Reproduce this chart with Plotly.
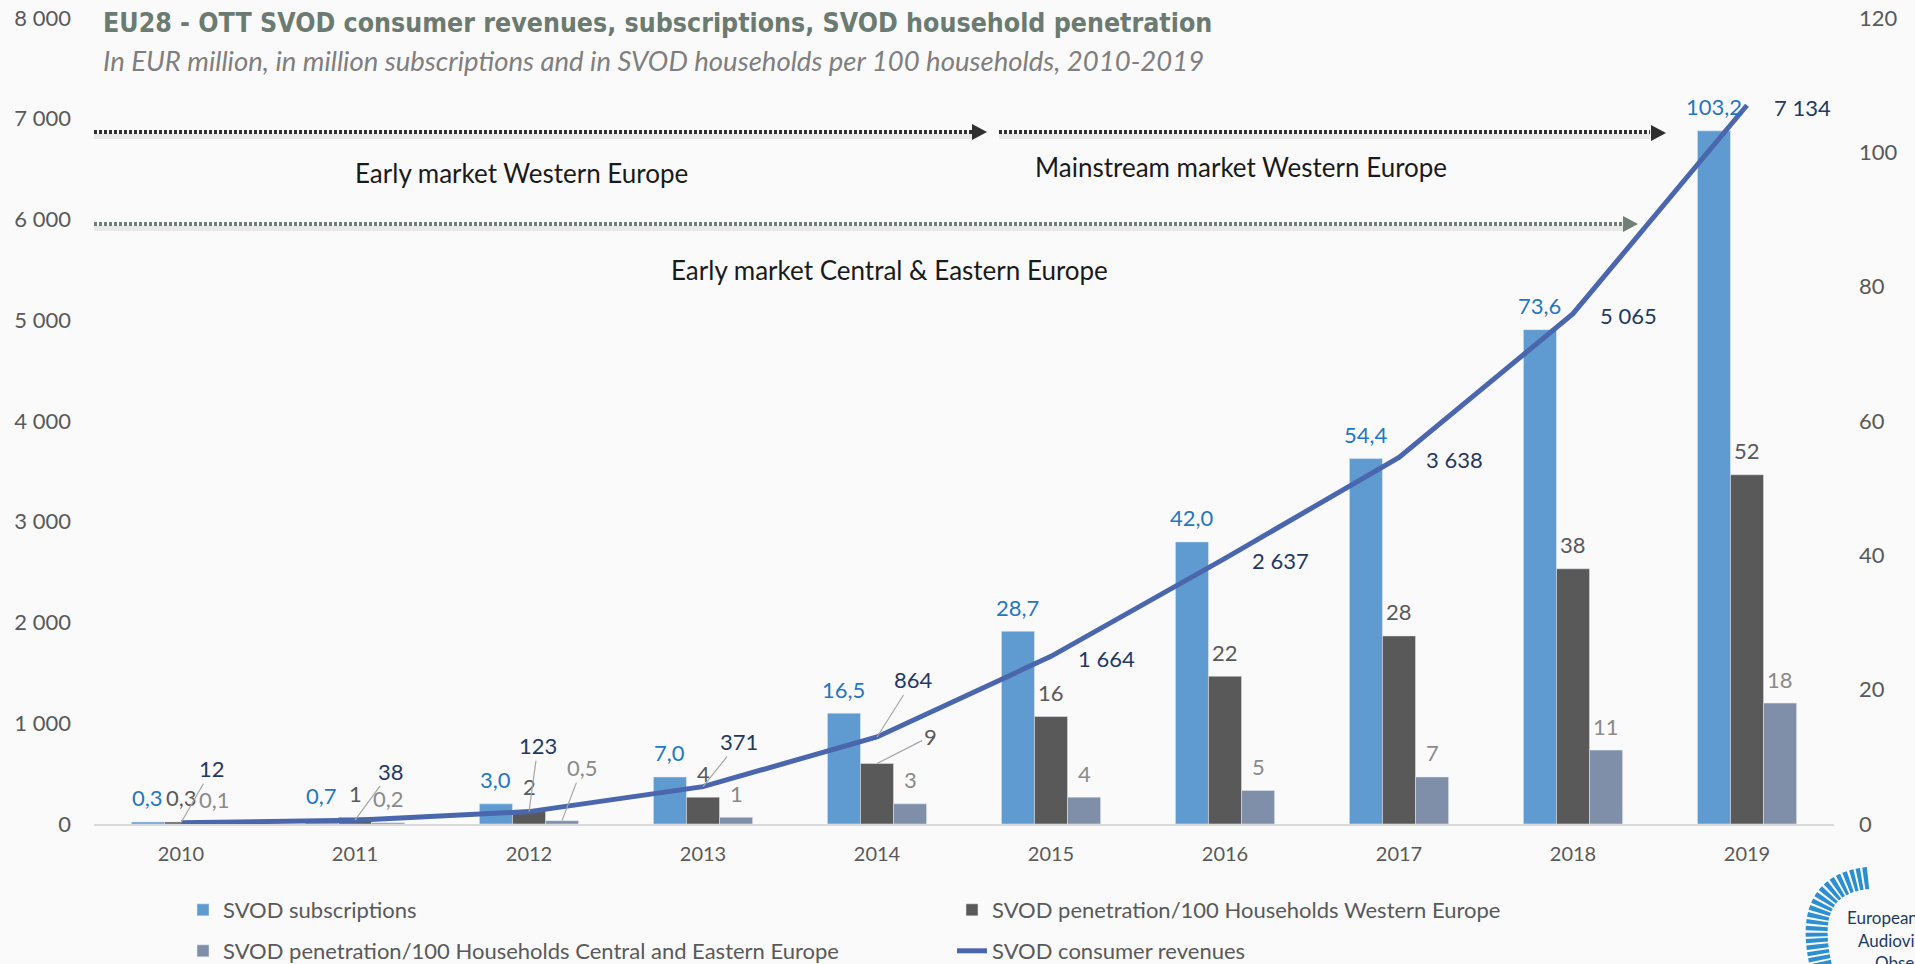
import plotly.graph_objects as go

# ---------------- data ----------------
years = ["2010", "2011", "2012", "2013", "2014", "2015", "2016", "2017", "2018", "2019"]
subscriptions = [0.3, 0.7, 3.0, 7.0, 16.5, 28.7, 42.0, 54.4, 73.6, 103.2]
pen_west = [0.3, 1, 2, 4, 9, 16, 22, 28, 38, 52]
pen_cee = [0.1, 0.2, 0.5, 1, 3, 4, 5, 7, 11, 18]
revenues = [12, 38, 123, 371, 864, 1664, 2637, 3638, 5065, 7134]
left_ticks = [0, 1000, 2000, 3000, 4000, 5000, 6000, 7000, 8000]
right_ticks = [0, 20, 40, 60, 80, 100, 120]

# ---------------- geometry helpers ----------------
W, H = 1915, 964
L, R, T, B = 94, 81, 18, 140
PW, PH = W - L - R, H - T - B
BARGAP = 0.43
BAR_W = (1 - BARGAP) * PW / len(years) / 3   # pixel width of one bar in a group


def px(x):
    return (x - L) / PW


def py(y):
    return (H - B - y) / PH


def dec(v):
    return f"{v:.1f}".replace(".", ",")


def pen_label(v):
    return dec(v) if v < 1 else f"{v:.0f}"


def thousands(v):
    return f"{v:,}".replace(",", " ")


FONT = "Lato, 'Open Sans', sans-serif"
C_BLUE = "#5f9bd1"
C_WEST = "#595959"
C_CEE = "#7f8fa9"
C_LINE = "#4a66ad"
C_LBL_BLUE = "#1f77c4"
C_LBL_NAVY = "#1f3864"
C_LBL_WEST = "#595959"
C_LBL_CEE = "#8a8a8a"
C_LEADER = "#a6a6a6"
C_AXIS = "#595959"
LBL = 22

# labels moved by hand (leader lines) in the original
west_moved = {"2014": (53, -27)}
cee_moved = {"2012": (20, -53)}
rev_moved = {"2010": (31, -54), "2011": (36, -49), "2012": (9, -66), "2013": (36, -45), "2014": (36, -57)}

fig = go.Figure()

fig.add_trace(go.Bar(x=years, y=subscriptions, name="SVOD subscriptions", marker_color=C_BLUE,
                     yaxis="y", legend="legend"))
fig.add_trace(go.Bar(x=years, y=pen_west, name="SVOD penetration/100 Households Western Europe",
                     marker_color=C_WEST, yaxis="y", legend="legend"))
fig.add_trace(go.Bar(x=years, y=pen_cee, name="SVOD penetration/100 Households Central and Eastern Europe",
                     marker_color=C_CEE, yaxis="y", legend="legend2"))
fig.add_trace(go.Scatter(x=years, y=revenues, name="SVOD consumer revenues", mode="lines",
                         line=dict(color=C_LINE, width=5), yaxis="y2", legend="legend2", cliponaxis=False))

annotations = []


def bar_labels(values, fmt, color, shift, moved):
    for i, (yr, v) in enumerate(zip(years, values)):
        if yr in moved:
            ax, ay = moved[yr]
            annotations.append(dict(x=i, y=v, xref="x", yref="y", text=fmt(v), showarrow=True,
                                    xshift=shift, ax=ax, ay=ay, arrowhead=0, arrowwidth=1.2,
                                    arrowcolor=C_LEADER, standoff=0,
                                    font=dict(family=FONT, size=LBL, color=color)))
        else:
            annotations.append(dict(x=i, y=v, xref="x", yref="y", text=fmt(v), showarrow=False,
                                    xshift=shift, yshift=24, yanchor="middle",
                                    font=dict(family=FONT, size=LBL, color=color)))


bar_labels(subscriptions, dec, C_LBL_BLUE, -BAR_W, {})
bar_labels(pen_west, pen_label, C_LBL_WEST, 0, west_moved)
bar_labels(pen_cee, pen_label, C_LBL_CEE, BAR_W, cee_moved)

# revenue labels
for i, (yr, v) in enumerate(zip(years, revenues)):
    if yr in rev_moved:
        ax, ay = rev_moved[yr]
        annotations.append(dict(x=i, y=v, xref="x", yref="y2", text=thousands(v), showarrow=True,
                                ax=ax, ay=ay, arrowhead=0, arrowwidth=1.2, arrowcolor=C_LEADER, standoff=0,
                                font=dict(family=FONT, size=LBL, color=C_LBL_NAVY)))
    else:
        annotations.append(dict(x=i, y=v, xref="x", yref="y2", text=thousands(v), showarrow=False,
                                xanchor="left", xshift=25, yshift=-2,
                                font=dict(family=FONT, size=LBL, color=C_LBL_NAVY)))

# title / subtitle
annotations.append(dict(xref="paper", yref="paper", x=px(101), y=py(22), xanchor="left", yanchor="middle",
                        showarrow=False,
                        text="<b>EU28 - OTT SVOD consumer revenues, subscriptions, SVOD household penetration</b>",
                        font=dict(family="'DejaVu Sans Condensed', 'Liberation Sans Narrow', sans-serif",
                                  size=26.5, color="#6b7b71")))
annotations.append(dict(xref="paper", yref="paper", x=px(101), y=py(60), xanchor="left", yanchor="middle",
                        showarrow=False,
                        text="<i>In EUR million, in million subscriptions and in SVOD households per 100 households, 2010-2019</i>",
                        font=dict(family=FONT, size=27.5, color="#7f7f7f")))

# phase texts
for txt, cx, cy in [("Early market Western Europe", 521, 173),
                    ("Mainstream market Western Europe", 1241, 167),
                    ("Early market Central &amp; Eastern Europe", 889, 270)]:
    annotations.append(dict(xref="paper", yref="paper", x=px(cx), y=py(cy), xanchor="center", yanchor="middle",
                            showarrow=False, text=txt, font=dict(family=FONT, size=26, color="#1a1a1a")))

# logo text
for txt, lx, ly in [("European", 1845, 917), ("Audiovisual", 1856, 940), ("Observatory", 1873, 962)]:
    annotations.append(dict(xref="paper", yref="paper", x=px(lx), y=py(ly), xanchor="left", yanchor="middle",
                            showarrow=False, text=txt, font=dict(family=FONT, size=17, color="#1d3a63")))

shapes = []
# dotted phase arrows
for x0, x1, yy, col in [(94, 972, 132, "#2f2f2f"), (999, 1650, 132, "#2f2f2f"), (94, 1623, 224, "#6f7f74")]:
    shapes.append(dict(type="line", xref="paper", yref="paper", x0=px(x0), x1=px(x1), y0=py(yy + 4), y1=py(yy + 4),
                       line=dict(color="rgba(0,0,0,0.07)", width=6)))
    shapes.append(dict(type="line", xref="paper", yref="paper", x0=px(x0), x1=px(x1), y0=py(yy), y1=py(yy),
                       line=dict(color=col, width=4, dash="3px,2px")))
for tip, yy, col in [(987, 132, "#2f2f2f"), (1666, 133, "#2f2f2f"), (1638, 224, "#6f7f74")]:
    path = f"M {px(tip-15)} {py(yy-8)} L {px(tip)} {py(yy)} L {px(tip-15)} {py(yy+8)} Z"
    shapes.append(dict(type="path", xref="paper", yref="paper", path=path, fillcolor=col, line=dict(width=0)))

# logo arc
arc = f"M {px(1868)} {py(878)} Q {px(1800)} {py(885)} {px(1822)} {py(970)}"
shapes.append(dict(type="path", xref="paper", yref="paper", path=arc, line=dict(color="#2b8fd2", width=22, dash="4px,2px")))

fig.update_layout(
    width=W, height=H,
    margin=dict(l=L, r=R, t=T, b=B, autoexpand=False),
    paper_bgcolor="#fafafa", plot_bgcolor="#fafafa",
    separators=", ",
    barmode="group", bargap=BARGAP, bargroupgap=0,
    font=dict(family=FONT, color=C_AXIS),
    xaxis=dict(type="category", range=[-0.5, 9.5], showgrid=False, showline=True, linecolor="#d9d9d9",
               linewidth=2, ticks="", tickfont=dict(family=FONT, size=20, color=C_AXIS), ticklabelstandoff=11),
    yaxis=dict(side="right", range=[0, 120], tickvals=right_ticks, showgrid=False, zeroline=False,
               tickfont=dict(family=FONT, size=22, color=C_AXIS), ticklabelstandoff=24),
    yaxis2=dict(side="left", overlaying="y", range=[0, 8000], tickvals=left_ticks,
                ticktext=[thousands(v) for v in left_ticks], showgrid=False, zeroline=False,
                tickfont=dict(family=FONT, size=22, color=C_AXIS), ticklabelstandoff=22),
    legend=dict(orientation="h", xref="container", yref="container", x=(223 - 40) / W, xanchor="left",
                y=1 - 910 / H, yanchor="middle", entrywidth=724, entrywidthmode="pixels",
                font=dict(family=FONT, size=22, color=C_AXIS), bgcolor="rgba(0,0,0,0)", traceorder="normal"),
    legend2=dict(orientation="h", xref="container", yref="container", x=(223 - 40) / W, xanchor="left",
                 y=1 - 951 / H, yanchor="middle", entrywidth=724, entrywidthmode="pixels",
                 font=dict(family=FONT, size=22, color=C_AXIS), bgcolor="rgba(0,0,0,0)", traceorder="normal"),
    annotations=annotations,
    shapes=shapes,
)

fig.write_html("out.html", config={"displayModeBar": False},
               post_script="document.body.style.margin='0';document.body.style.overflow='hidden';")
